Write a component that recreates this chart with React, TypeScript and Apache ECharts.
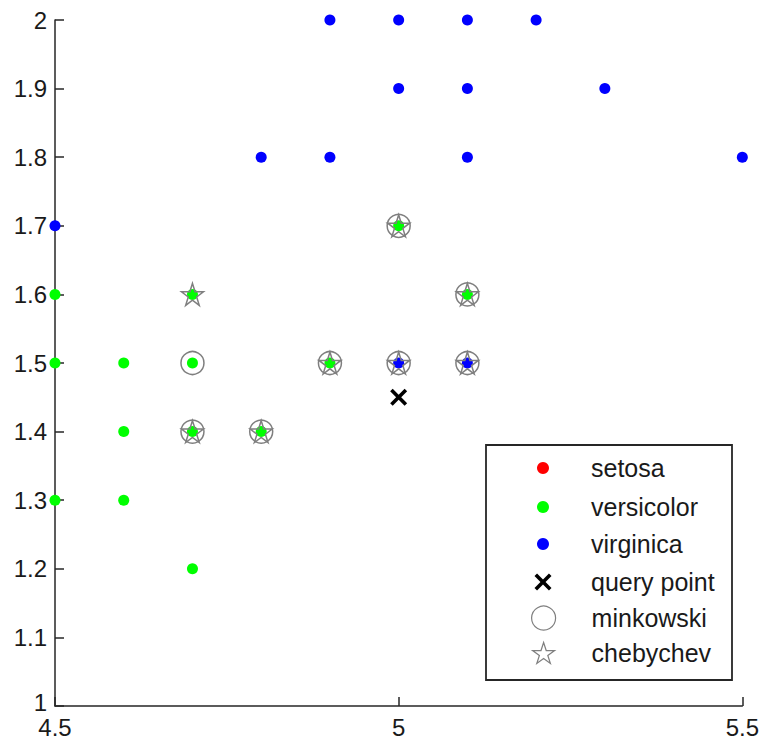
import React, { useEffect, useRef } from "react";
import * as echarts from "echarts";

const setosaX: number[] = [];
const setosaY: number[] = [];
const versicolorX = [5.0, 4.5, 4.7, 5.1, 4.5, 4.6, 4.7, 4.9, 4.6, 4.7, 4.8, 4.5, 4.6, 4.7];
const versicolorY = [1.7, 1.6, 1.6, 1.6, 1.5, 1.5, 1.5, 1.5, 1.4, 1.4, 1.4, 1.3, 1.3, 1.2];
const virginicaX = [4.9, 5.0, 5.1, 5.2, 5.0, 5.1, 5.3, 4.8, 4.9, 5.1, 5.5, 4.5, 5.0, 5.1];
const virginicaY = [2.0, 2.0, 2.0, 2.0, 1.9, 1.9, 1.9, 1.8, 1.8, 1.8, 1.8, 1.7, 1.5, 1.5];
const queryX = [5.0];
const queryY = [1.45];
const minkowskiX = [5.0, 5.1, 4.7, 4.9, 5.0, 5.1, 4.7, 4.8];
const minkowskiY = [1.7, 1.6, 1.5, 1.5, 1.5, 1.5, 1.4, 1.4];
const chebychevX = [5.0, 4.7, 5.1, 4.9, 5.0, 5.1, 4.7, 4.8];
const chebychevY = [1.7, 1.6, 1.6, 1.5, 1.5, 1.5, 1.4, 1.4];
const legendNames = ["setosa", "versicolor", "virginica", "query point", "minkowski", "chebychev"];

const pts = (xs: number[], ys: number[]) => xs.map((x, i) => [x, ys[i]]);

const STAR =
  "path://M50 0 L61.23 34.55 L97.55 34.55 L68.17 55.9 L79.39 90.45 L50 69.1 L20.61 90.45 L31.83 55.9 L2.45 34.55 L38.77 34.55 Z";
const CROSS =
  "path://M0 15 L15 0 L50 35 L85 0 L100 15 L65 50 L100 85 L85 100 L50 65 L15 100 L0 85 L35 50 Z";

const FONT = "'Liberation Sans', Arial, sans-serif";
const GRAY = "#7f7f7f";

export default function App() {
  const ref = useRef<HTMLDivElement>(null);
  useEffect(() => {
    if (!ref.current) return;
    const chart = echarts.init(ref.current, undefined, { renderer: "svg" });
    const rowCenters = [468, 507, 544, 582, 618, 653];
    const iconH = [12, 12, 12, 17, 24, 22];
    const iconCenterX = 543;
    const textLeft = 591;
    const legendItemStyle: any[] = [
      { color: "#ff0000", borderWidth: 0, opacity: 1 },
      { color: "#00ff00", borderWidth: 0, opacity: 1 },
      { color: "#0000ff", borderWidth: 0, opacity: 1 },
      { color: "#000000", borderWidth: 0, opacity: 1 },
      { color: "rgba(0,0,0,0)", borderColor: GRAY, borderWidth: 1.2, opacity: 1 },
      { color: "rgba(0,0,0,0)", borderColor: GRAY, borderWidth: 1.2, opacity: 1 },
    ];
    const legends = legendNames.map((name, i) => {
      const w = iconH[i];
      const left = iconCenterX - w / 2;
      const pad = textLeft - (left + w + 5);
      return {
        data: [{ name, itemStyle: legendItemStyle[i] }],
        left,
        top: rowCenters[i] - 12.5,
        padding: 0,
        itemWidth: w,
        itemHeight: w,
        itemGap: 0,
        selectedMode: false,
        textStyle: {
          fontFamily: FONT,
          fontSize: 25,
          color: "#1a1a1a",
          padding: [0, 0, 0, pad],
        },
      };
    });
    const dotStyle = (c: string) => ({ color: c, opacity: 1 });
    const option: any = {
      animation: false,
      backgroundColor: "#ffffff",
      grid: { left: 55, right: 19, top: 20, bottom: 37, containLabel: false },
      xAxis: {
        type: "value",
        min: 4.5,
        max: 5.5,
        interval: 0.5,
        splitLine: { show: false },
        axisLine: { show: true, lineStyle: { color: "#262626", width: 1.5 } },
        axisTick: { show: true, inside: true, length: 9, lineStyle: { color: "#262626", width: 1.5 } },
        axisLabel: {
          fontFamily: FONT,
          fontSize: 24,
          lineHeight: 20,
          color: "#1a1a1a",
          margin: 11,
          showMinLabel: true,
          showMaxLabel: true,
          hideOverlap: false,
        },
      },
      yAxis: {
        type: "value",
        min: 1,
        max: 2,
        interval: 0.1,
        splitLine: { show: false },
        axisLine: { show: true, lineStyle: { color: "#262626", width: 1.5 } },
        axisTick: { show: true, inside: true, length: 9, lineStyle: { color: "#262626", width: 1.5 } },
        axisLabel: {
          fontFamily: FONT,
          fontSize: 24,
          lineHeight: 20,
          color: "#1a1a1a",
          margin: 8,
          showMinLabel: true,
          showMaxLabel: true,
          formatter: (v: number) => {
            const s = String(Math.round(v * 10) / 10);
            return v <= 1.0001 ? "{low|" + s + "}" : s;
          },
          rich: {
            low: {
              fontFamily: FONT,
              fontSize: 24,
              lineHeight: 18,
              color: "#1a1a1a",
              padding: [0, 0, 8, 0],
            },
          },
        },
      },
      legend: legends,
      graphic: [
        {
          type: "rect",
          z: 3,
          shape: { x: 486, y: 445, width: 246, height: 235 },
          style: { fill: "#ffffff", stroke: "#262626", lineWidth: 1.8 },
        },
      ],
      series: [
        {
          name: "setosa",
          type: "scatter",
          symbol: "circle",
          symbolSize: 11,
          itemStyle: dotStyle("#ff0000"),
          data: pts(setosaX, setosaY),
          clip: false,
        },
        {
          name: "versicolor",
          type: "scatter",
          symbol: "circle",
          symbolSize: 11,
          itemStyle: dotStyle("#00ff00"),
          data: pts(versicolorX, versicolorY),
          clip: false,
        },
        {
          name: "virginica",
          type: "scatter",
          symbol: "circle",
          symbolSize: 11,
          itemStyle: dotStyle("#0000ff"),
          data: pts(virginicaX, virginicaY),
          clip: false,
        },
        {
          name: "query point",
          type: "scatter",
          symbol: CROSS,
          symbolSize: 17,
          itemStyle: dotStyle("#000000"),
          data: pts(queryX, queryY),
          clip: false,
        },
        {
          name: "minkowski",
          type: "scatter",
          symbol: "circle",
          symbolSize: 23,
          itemStyle: { color: "rgba(0,0,0,0)", borderColor: GRAY, borderWidth: 1.5, opacity: 1 },
          data: pts(minkowskiX, minkowskiY),
          clip: false,
        },
        {
          name: "chebychev",
          type: "scatter",
          symbol: STAR,
          symbolSize: 22,
          itemStyle: { color: "rgba(0,0,0,0)", borderColor: GRAY, borderWidth: 1.5, opacity: 1 },
          data: pts(chebychevX, chebychevY),
          clip: false,
        },
      ],
    };
    chart.setOption(option);
    return () => chart.dispose();
  }, []);
  return <div ref={ref} style={{ width: 762, height: 743, position: "absolute", left: 0, top: 0 }} />;
}
